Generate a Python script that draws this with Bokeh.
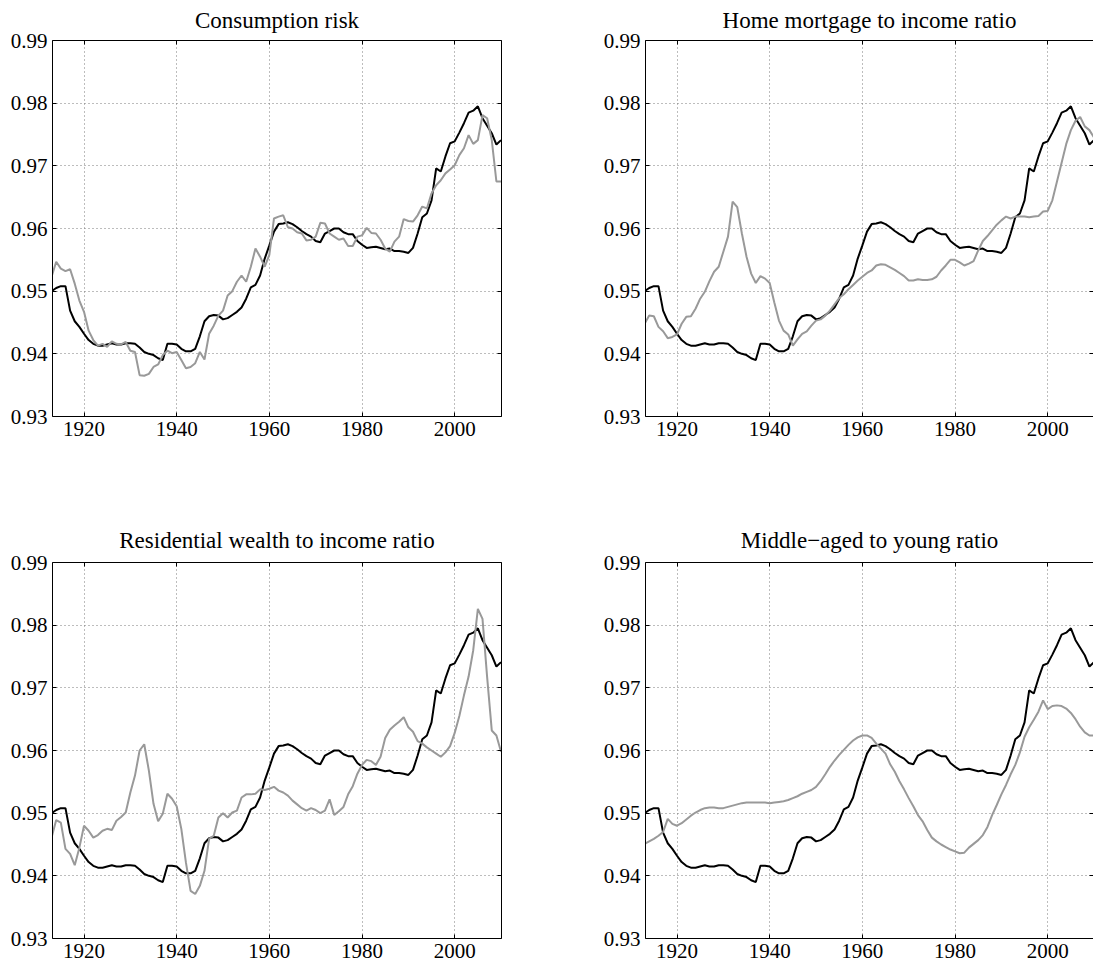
from bokeh.plotting import figure
from bokeh.layouts import column, row
from bokeh.models import Range1d, FixedTicker, PrintfTickFormatter, LinearAxis
from bokeh.embed import file_html
from bokeh.resources import INLINE

years = list(range(1913, 2011))

benchmark = [
    0.9500, 0.9505, 0.9508, 0.9508, 0.9469, 0.9452, 0.9443,
    0.9432, 0.9422, 0.9416, 0.9413, 0.9413, 0.9415, 0.9417, 0.9415, 0.9415, 0.9417,
    0.9417, 0.9416, 0.9410, 0.9403, 0.9400, 0.9398, 0.9393, 0.9390, 0.9416, 0.9416,
    0.9415, 0.9408, 0.9404, 0.9404, 0.9408, 0.9428, 0.9452, 0.9460, 0.9462, 0.9461,
    0.9455, 0.9457, 0.9462, 0.9467, 0.9474, 0.9488, 0.9506, 0.9510, 0.9525, 0.9552,
    0.9573, 0.9595, 0.9607, 0.9608, 0.9610, 0.9607, 0.9602, 0.9596, 0.9591, 0.9587,
    0.9580, 0.9578, 0.9592, 0.9596, 0.9600, 0.9600, 0.9594, 0.9591, 0.9591, 0.9580,
    0.9574, 0.9569, 0.9570, 0.9571, 0.9569, 0.9567, 0.9568, 0.9564, 0.9564, 0.9563,
    0.9561, 0.9569, 0.9592, 0.9618, 0.9624, 0.9645, 0.9696, 0.9691, 0.9715, 0.9736,
    0.9739, 0.9753, 0.9768, 0.9785, 0.9788, 0.9795, 0.9776, 0.9764, 0.9752, 0.9734, 0.9741,
]

consumption_risk = [
    0.9523, 0.9547, 0.9536, 0.9532, 0.9535, 0.9512, 0.9485,
    0.9467, 0.9437, 0.9422, 0.9413, 0.9416, 0.9411, 0.9420, 0.9416, 0.9415, 0.9419,
    0.9405, 0.9403, 0.9366, 0.9365, 0.9368, 0.9379, 0.9383, 0.9398, 0.9405, 0.9401,
    0.9403, 0.9390, 0.9377, 0.9379, 0.9385, 0.9403, 0.9391, 0.9432, 0.9445, 0.9461,
    0.9469, 0.9493, 0.9500, 0.9515, 0.9525, 0.9515, 0.9539, 0.9568, 0.9555, 0.9539,
    0.9558, 0.9616, 0.9619, 0.9621, 0.9602, 0.9600, 0.9594, 0.9592, 0.9581, 0.9582,
    0.9587, 0.9609, 0.9608, 0.9592, 0.9587, 0.9582, 0.9584, 0.9572, 0.9572, 0.9587,
    0.9589, 0.9601, 0.9593, 0.9592, 0.9582, 0.9568, 0.9563, 0.9579, 0.9587, 0.9615,
    0.9612, 0.9611, 0.9621, 0.9635, 0.9632, 0.9656, 0.9669, 0.9677, 0.9688, 0.9694,
    0.9701, 0.9717, 0.9728, 0.9749, 0.9735, 0.9741, 0.9781, 0.9776, 0.9741, 0.9675, 0.9675,
]

mortgage_income = [
    0.9448, 0.9461, 0.9460, 0.9443, 0.9436, 0.9425, 0.9427,
    0.9431, 0.9448, 0.9459, 0.9460, 0.9472, 0.9488, 0.9499, 0.9516, 0.9531, 0.9539,
    0.9563, 0.9587, 0.9643, 0.9634, 0.9592, 0.9555, 0.9528, 0.9513, 0.9524, 0.9520,
    0.9513, 0.9482, 0.9453, 0.9437, 0.9431, 0.9413, 0.9423, 0.9432, 0.9436, 0.9445,
    0.9453, 0.9455, 0.9461, 0.9469, 0.9479, 0.9489, 0.9495, 0.9503, 0.9510, 0.9517,
    0.9523, 0.9529, 0.9533, 0.9541, 0.9543, 0.9542, 0.9538, 0.9534, 0.9529, 0.9524,
    0.9517, 0.9517, 0.9519, 0.9518, 0.9518, 0.9519, 0.9523, 0.9533, 0.9541, 0.9550,
    0.9550, 0.9546, 0.9541, 0.9544, 0.9548, 0.9565, 0.9580, 0.9588, 0.9597, 0.9606,
    0.9613, 0.9619, 0.9616, 0.9619, 0.9619, 0.9619, 0.9618, 0.9619, 0.9620, 0.9627,
    0.9628, 0.9645, 0.9675, 0.9705, 0.9735, 0.9757, 0.9772, 0.9778, 0.9763, 0.9757, 0.9745,
]

wealth_income = [
    0.9461, 0.9489, 0.9485, 0.9443, 0.9435, 0.9417, 0.9445,
    0.9480, 0.9472, 0.9461, 0.9465, 0.9472, 0.9475, 0.9473, 0.9488, 0.9494, 0.9501,
    0.9533, 0.9560, 0.9600, 0.9610, 0.9568, 0.9515, 0.9487, 0.9499, 0.9531, 0.9523,
    0.9511, 0.9475, 0.9421, 0.9376, 0.9371, 0.9384, 0.9408, 0.9459, 0.9464, 0.9493,
    0.9500, 0.9493, 0.9501, 0.9504, 0.9525, 0.9530, 0.9530, 0.9531, 0.9538, 0.9537,
    0.9539, 0.9542, 0.9536, 0.9533, 0.9528, 0.9520, 0.9514, 0.9508, 0.9504, 0.9508,
    0.9505, 0.9500, 0.9504, 0.9522, 0.9497, 0.9503, 0.9510, 0.9530, 0.9543, 0.9563,
    0.9577, 0.9585, 0.9583, 0.9577, 0.9590, 0.9620, 0.9633, 0.9640, 0.9646, 0.9653,
    0.9637, 0.9630, 0.9615, 0.9611, 0.9605, 0.9600, 0.9595, 0.9590, 0.9597, 0.9607,
    0.9628, 0.9655, 0.9688, 0.9718, 0.9760, 0.9826, 0.9810, 0.9717, 0.9632, 0.9624, 0.9598,
]

middle_young = [
    0.9451, 0.9455, 0.9459, 0.9464, 0.9470, 0.9491, 0.9483,
    0.9480, 0.9484, 0.9490, 0.9496, 0.9501, 0.9505, 0.9508, 0.9509, 0.9509, 0.9508,
    0.9508, 0.9510, 0.9512, 0.9514, 0.9516, 0.9517, 0.9517, 0.9517, 0.9517, 0.9517,
    0.9516, 0.9517, 0.9518, 0.9519, 0.9521, 0.9524, 0.9527, 0.9531, 0.9534, 0.9537,
    0.9542, 0.9551, 0.9562, 0.9574, 0.9584, 0.9593, 0.9601, 0.9609, 0.9616, 0.9621,
    0.9624, 0.9624, 0.9620, 0.9611, 0.9603, 0.9595, 0.9578, 0.9566, 0.9551, 0.9538,
    0.9524, 0.9511, 0.9497, 0.9487, 0.9473, 0.9461, 0.9455, 0.9450, 0.9446, 0.9442,
    0.9439, 0.9436, 0.9437, 0.9445, 0.9451, 0.9457, 0.9465, 0.9478, 0.9497, 0.9513,
    0.9530, 0.9545, 0.9562, 0.9577, 0.9597, 0.9622, 0.9637, 0.9649, 0.9662, 0.9680,
    0.9666, 0.9671, 0.9672, 0.9671, 0.9667, 0.9660, 0.9650, 0.9638, 0.9629, 0.9624, 0.9624,
]

titles = [
    "Consumption risk",
    "Home mortgage to income ratio",
    "Residential wealth to income ratio",
    "Middle\u2212aged to young ratio",
]
x_ticks = [1920, 1940, 1960, 1980, 2000]
y_ticks = [0.93, 0.94, 0.95, 0.96, 0.97, 0.98, 0.99]

FONT = "Liberation Serif"


def make_panel(title_text, gray_vals, is_right, is_bottom):
    width = 500 if is_right else 593
    height = 488 if is_bottom else 480
    x_end = 2009.88 if is_right else 2010.1
    p = figure(
        width=width, height=height,
        x_range=Range1d(1913.2, x_end), y_range=Range1d(0.93, 0.99),
        output_backend="svg", toolbar_location=None,
        min_border_left=52, min_border_right=0 if is_right else 92,
        min_border_top=82 if is_bottom else 40,
        min_border_bottom=30 if is_bottom else 64,
    )
    p.outline_line_color = None
    p.background_fill_color = "white"
    p.border_fill_color = "white"
    p.add_layout(LinearAxis(), "above")
    p.add_layout(LinearAxis(), "right")

    for ax in p.xaxis:
        ax.ticker = FixedTicker(ticks=x_ticks)
    for ax in p.yaxis:
        ax.ticker = FixedTicker(ticks=y_ticks)
        ax.formatter = PrintfTickFormatter(format="%.2f")
    for ax in p.axis:
        ax.major_tick_in = 4
        ax.major_tick_out = 0
        ax.minor_tick_line_color = None
        ax.axis_line_color = "black"
        ax.axis_line_width = 1
        ax.major_tick_line_color = "black"
        ax.major_label_text_font = FONT
        ax.major_label_text_font_size = "21px"
        ax.major_label_text_color = "black"
    p.yaxis[0].major_label_standoff = 5
    p.xaxis[0].major_label_standoff = 3
    # top and right frame edges: tick marks only, no labels drawn
    for ax in (p.above[-1], p.right[-1]):
        ax.major_label_text_color = None
        ax.major_label_text_font_size = "1px"
        ax.major_label_standoff = 0
    if is_right:
        p.right[-1].axis_line_color = None

    p.xgrid.ticker = FixedTicker(ticks=x_ticks)
    p.ygrid.ticker = FixedTicker(ticks=y_ticks)
    for g in (p.xgrid, p.ygrid):
        g.grid_line_color = "#7a7a7a"
        g.grid_line_dash = "1 3"
        g.grid_line_width = 1

    p.title.text = title_text
    p.title.align = "center"
    p.title.text_font = FONT
    p.title.text_font_size = "23px"
    p.title.text_font_style = "normal"
    p.title.text_color = "black"
    p.title.text_line_height = 1.0
    if is_bottom:
        p.title.standoff = 20
    else:
        p.title.vertical_align = "top"
        p.title.standoff = 12

    p.line(years, benchmark, line_color="black", line_width=2)
    p.line(years, gray_vals, line_color="#999999", line_width=2)
    return p


p1 = make_panel(titles[0], consumption_risk, False, False)
p2 = make_panel(titles[1], mortgage_income, True, False)
p3 = make_panel(titles[2], wealth_income, False, True)
p4 = make_panel(titles[3], middle_young, True, True)

layout = column(row(p1, p2), row(p3, p4))
open("out.html", "w").write(file_html(layout, INLINE))
